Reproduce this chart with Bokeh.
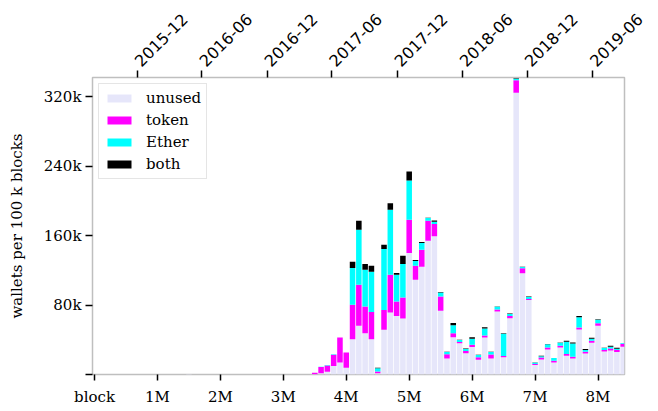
import math
from bokeh.plotting import figure
from bokeh.models import Range1d, LinearAxis, FixedTicker, ColumnDataSource
from bokeh.embed import file_html
from bokeh.resources import INLINE

# bar centres (block numbers) and wallet counts per 100k blocks (thousands)
blocks = [1500000,
          3500000, 3600000, 3700000, 3800000, 3900000, 4000000, 4100000, 4200000, 4300000, 4400000,
          4500000, 4600000, 4700000, 4800000, 4900000, 5000000, 5100000, 5200000, 5300000, 5400000,
          5500000, 5600000, 5700000, 5800000, 5900000, 6000000, 6100000, 6200000, 6300000, 6400000,
          6500000, 6600000, 6700000, 6800000, 6900000, 7000000, 7100000, 7200000, 7300000, 7400000,
          7500000, 7600000, 7700000, 7800000, 7900000, 8000000, 8100000, 8200000, 8300000, 8400000]
unused = [0.6,
          0.3, 1.5, 3.3, 9.8, 13.7, 7.9, 40.6, 56.0, 47.5, 40.6,
          1.5, 51.4, 71.3, 67.5, 64.4, 139.9, 109.1, 124.1, 154.1, 159.1,
          73.3, 18.3, 42.9, 36.0, 24.5, 31.7, 17.1, 42.5, 18.3, 72.5,
          19.8, 64.8, 324.5, 116.6, 85.9, 10.8, 17.3, 28.9, 13.9, 31.2,
          21.6, 18.5, 51.9, 24.2, 36.6, 56.2, 26.6, 27.7, 25.8, 32.0]
token = [0.0,
         1.8, 7.0, 7.0, 13.0, 28.8, 17.3, 39.6, 47.3, 30.8, 31.5,
         1.9, 23.0, 43.5, 16.5, 24.2, 38.4, 16.1, 19.6, 23.0, 14.2,
         16.5, 5.0, 4.6, 1.5, 2.6, 2.7, 2.7, 2.3, 4.6, 2.3,
         1.5, 2.7, 14.2, 5.7, 1.1, 1.2, 2.3, 2.3, 1.9, 1.9,
         1.9, 1.9, 2.3, 2.0, 2.3, 2.7, 1.6, 2.3, 2.4, 3.5]
ether = [0.0,
         0.0, 0.3, 0.6, 0.6, 0.0, 0.0, 42.3, 63.5, 42.3, 46.2,
         3.9, 70.1, 75.0, 30.8, 38.6, 45.0, 5.4, 7.7, 3.0, 2.7,
         4.6, 2.7, 9.3, 2.3, 2.3, 6.9, 2.7, 8.1, 3.1, 3.1,
         25.7, 2.3, 2.0, 1.5, 2.3, 1.5, 1.5, 3.5, 3.1, 3.5,
         14.2, 15.4, 11.6, 2.0, 2.3, 4.2, 2.3, 2.0, 1.5, 0.7]
both = [0.0,
        0.0, 0.0, 0.0, 0.0, 0.0, 0.0, 7.3, 10.3, 6.6, 6.9,
        0.4, 4.9, 7.3, 2.0, 9.5, 10.4, 1.2, 1.1, 0.5, 1.2,
        0.5, 0.3, 2.6, 0.3, 0.4, 1.6, 0.3, 1.6, 0.3, 0.3,
        0.5, 0.3, 0.3, 0.4, 0.4, 0.4, 0.5, 0.5, 0.2, 0.2,
        1.2, 1.1, 1.6, 1.1, 1.2, 0.5, 0.3, 1.1, 1.1, 0.2]

series_names = ["unused", "token", "Ether", "both"]
series_colors = ["#e6e6fa", "#ff00ff", "#00ffff", "#000000"]

x_ticks = [0, 1000000, 2000000, 3000000, 4000000, 5000000, 6000000, 7000000, 8000000]
x_tick_labels = ["block", "1M", "2M", "3M", "4M", "5M", "6M", "7M", "8M"]
y_ticks = [0, 80, 160, 240, 320]
y_tick_labels = ["", "80k", "160k", "240k", "320k"]
date_ticks = [681000, 1707000, 2742000, 3769000, 4808000, 5844000, 6878000, 7913000]
date_labels = ["2015-12", "2016-06", "2016-12", "2017-06", "2017-12", "2018-06", "2018-12", "2019-06"]

source = ColumnDataSource(dict(block=blocks, unused=unused, token=token, ether=ether, both=both))

SERIF = "DejaVu Serif"
SANS = "DejaVu Sans"
FS = "15px"

p = figure(width=658, height=408, x_range=Range1d(-32000, 8421000), y_range=Range1d(0, 342),
           output_backend="svg", toolbar_location=None,
           min_border_left=92, min_border_right=34, min_border_top=77, min_border_bottom=34)

p.vbar_stack(["unused", "token", "ether", "both"], x="block", width=88000,
             color=series_colors, line_color=None, source=source, legend_label=series_names)

p.xgrid.visible = False
p.ygrid.visible = False
p.outline_line_color = "#bfbfbf"
p.outline_line_width = 1.5
p.background_fill_color = "white"
p.border_fill_color = "white"

for ax in (p.xaxis[0], p.yaxis[0]):
    ax.axis_line_color = None
    ax.major_tick_line_color = "black"
    ax.major_tick_line_width = 1.5
    ax.major_tick_in = 0
    ax.minor_tick_line_color = None
    ax.major_label_text_font = SERIF
    ax.major_label_text_font_size = FS
    ax.major_label_text_color = "black"

p.xaxis.ticker = FixedTicker(ticks=x_ticks)
p.xaxis.major_label_overrides = {t: l for t, l in zip(x_ticks, x_tick_labels)}
p.xaxis.major_tick_out = 6
p.xaxis.major_label_standoff = 7

p.yaxis.ticker = FixedTicker(ticks=y_ticks)
p.yaxis.major_label_overrides = {t: l for t, l in zip(y_ticks, y_tick_labels)}
p.yaxis.major_tick_out = 7
p.yaxis.major_label_standoff = 4
p.yaxis.axis_label = "wallets per 100 k blocks"
p.yaxis.axis_label_text_font = SERIF
p.yaxis.axis_label_text_font_size = FS
p.yaxis.axis_label_text_font_style = "normal"
p.yaxis.axis_label_text_color = "black"
p.yaxis.axis_label_standoff = 15

top = LinearAxis(ticker=FixedTicker(ticks=date_ticks))
top.major_label_overrides = {t: l for t, l in zip(date_ticks, date_labels)}
top.axis_line_color = None
top.major_tick_line_color = "black"
top.major_tick_line_width = 1.5
top.major_tick_in = 0
top.major_tick_out = 7
top.minor_tick_line_color = None
top.major_label_orientation = math.pi / 4
top.major_label_text_font = SANS
top.major_label_text_font_size = "16px"
top.major_label_text_color = "black"
top.major_label_standoff = 7
p.add_layout(top, "above")

lg = p.legend[0]
lg.location = "top_left"
lg.margin = 6
lg.padding = 5
lg.spacing = 4
lg.glyph_width = 30
lg.glyph_height = 10
lg.label_height = 16
lg.label_standoff = 12
lg.label_text_font = SERIF
lg.label_text_font_size = FS
lg.label_text_color = "black"
lg.border_line_color = "#cccccc"
lg.border_line_width = 1.5
lg.background_fill_alpha = 0.8

open("out.html", "w").write(file_html(p, INLINE))
